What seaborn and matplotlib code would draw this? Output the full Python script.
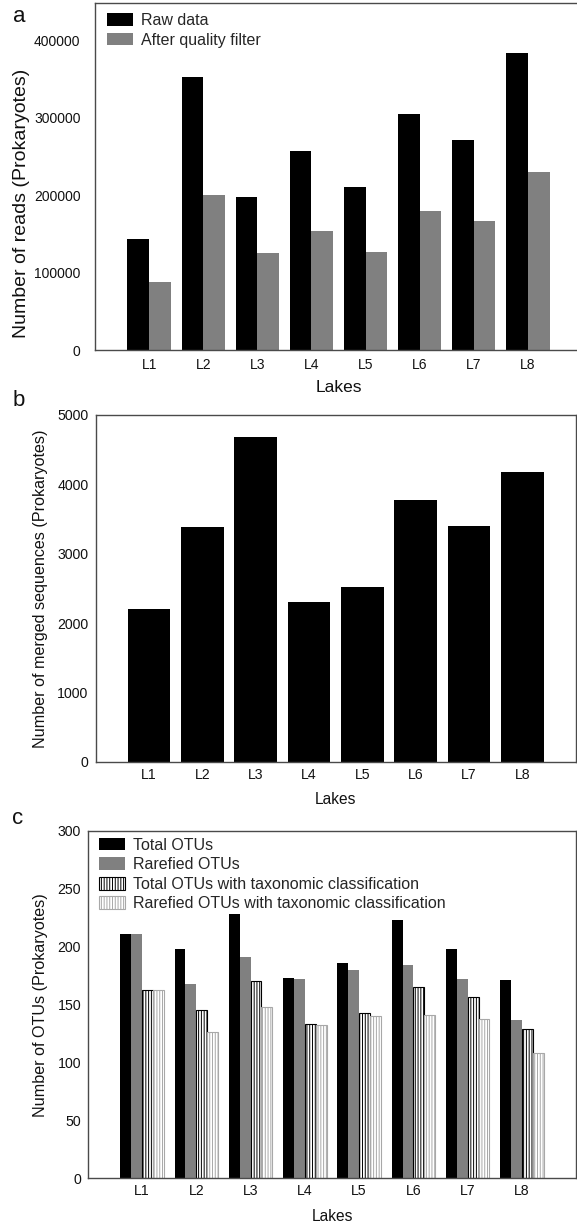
import numpy as np
import pandas as pd
import matplotlib
matplotlib.use("Agg")
import matplotlib.pyplot as plt
from matplotlib.patches import Patch
import seaborn as sns

# ---------------- data ----------------
lakes = ["L1", "L2", "L3", "L4", "L5", "L6", "L7", "L8"]

raw_reads = [143600, 352700, 197800, 256800, 209900, 304500, 271000, 382800]
filtered_reads = [87300, 200000, 124700, 153500, 126500, 179400, 166000, 229300]

merged_seqs = [2206, 3385, 4678, 2303, 2515, 3774, 3395, 4178]

total_otus = [211, 198, 228, 173, 186, 223, 198, 171]
rarefied_otus = [211, 168, 191, 172, 180, 184, 172, 137]
total_otus_tax = [163, 145, 170, 133, 143, 165, 157, 129]
rarefied_otus_tax = [163, 126, 148, 132, 140, 141, 138, 108]

reads_series = ["Raw data", "After quality filter"]
otu_series = ["Total OTUs", "Rarefied OTUs",
              "Total OTUs with taxonomic classification",
              "Rarefied OTUs with taxonomic classification"]

ticks_a = [0, 100000, 200000, 300000, 400000]
ticks_b = [0, 1000, 2000, 3000, 4000, 5000]
ticks_c = [0, 50, 100, 150, 200, 250, 300]

# ---------------- style ----------------
sns.set_theme(style="white")
FAM = ["Liberation Sans", "DejaVu Sans"]
plt.rcParams["font.family"] = FAM
plt.rcParams["hatch.linewidth"] = 0.7

W, H = 577, 1226
fig = plt.figure(figsize=(W / 100, H / 100), dpi=100)


def add_axes(l, t, r, b):
    return fig.add_axes([l / W, 1 - b / H, (r - l) / W, (b - t) / H])


SPINE = "#4a4a4a"
TXT = "#111111"


def style_axes(ax, ylim, yticks, tick_fs, xpad, ypad):
    ax.set_ylim(*ylim)
    ax.set_xlim(-1, 8)
    ax.set_yticks(yticks)
    ax.set_yticklabels([str(t) for t in yticks], fontsize=tick_fs)
    ax.set_xticks(range(len(lakes)))
    ax.set_xticklabels(lakes, fontsize=tick_fs)
    ax.tick_params(axis="x", length=0, pad=xpad, colors=TXT)
    ax.tick_params(axis="y", length=0, pad=ypad, colors=TXT)
    for s in ax.spines.values():
        s.set_visible(True)
        s.set_color(SPINE)
        s.set_linewidth(1.0)


def place_labels(ax, xlab, ylab, ax_h_px, ax_w_px, x_off_px, ylab_xpx,
                 ylab_ycenter_frac, fs_x, fs_y, ax_left_px):
    ax.set_xlabel(xlab, fontsize=fs_x, color=TXT)
    ax.set_ylabel(ylab, fontsize=fs_y, color=TXT)
    ax.xaxis.set_label_coords(0.5, -x_off_px / ax_h_px)
    ax.xaxis.label.set_verticalalignment("center")
    ax.yaxis.set_label_coords((ylab_xpx - ax_left_px) / ax_w_px, ylab_ycenter_frac)
    ax.yaxis.label.set_verticalalignment("center")


# ---------------- panel a ----------------
axA = add_axes(95, 3.3, 582, 350)
dfa = pd.DataFrame({
    "Lake": lakes * 2,
    "Reads": raw_reads + filtered_reads,
    "Series": [reads_series[0]] * 8 + [reads_series[1]] * 8,
})
sns.barplot(data=dfa, x="Lake", y="Reads", hue="Series", order=lakes,
            hue_order=reads_series, palette=["#000000", "#808080"],
            saturation=1, width=0.8, errorbar=None, legend=False,
            edgecolor="none", linewidth=0, ax=axA)
style_axes(axA, (0, 447400), ticks_a, 10, 6.0, 10.5)
place_labels(axA, "Lakes", "Number of reads (Prokaryotes)", 346.7, 487, 38,
             22, (350 - 203) / 346.7, 12.5, 14, 95)
hA = [Patch(facecolor="#000000", edgecolor="none"),
      Patch(facecolor="#808080", edgecolor="none")]
axA.legend(hA, reads_series, loc="upper left",
           bbox_to_anchor=(12 / 487, 1 - 9.5 / 346.7),
           frameon=False, borderpad=0, borderaxespad=0, handlelength=1.65,
           handleheight=0.85, handletextpad=0.45, labelspacing=0.3,
           prop={"size": 11.5})

# ---------------- panel b ----------------
axB = add_axes(95.7, 415, 575.7, 761.7)
dfb = pd.DataFrame({"Lake": lakes, "Merged": merged_seqs})
sns.barplot(data=dfb, x="Lake", y="Merged", order=lakes, color="#000000",
            saturation=1, width=0.8, errorbar=None, edgecolor="none",
            linewidth=0, ax=axB)
style_axes(axB, (0, 5000), ticks_b, 10.2, 4.5, 5.3)
place_labels(axB, "Lakes", "Number of merged sequences (Prokaryotes)", 346.7, 480,
             38.3, 41, 0.5, 11.2, 11.6, 95.7)

# ---------------- panel c ----------------
axC = add_axes(87.7, 831, 576.3, 1178.3)
dfc = pd.DataFrame({
    "Lake": lakes * 4,
    "OTUs": total_otus + rarefied_otus + total_otus_tax + rarefied_otus_tax,
    "Series": sum([[s] * 8 for s in otu_series], []),
})
sns.barplot(data=dfc, x="Lake", y="OTUs", hue="Series", order=lakes,
            hue_order=otu_series,
            palette=["#000000", "#808080", "#ffffff", "#ffffff"],
            saturation=1, width=0.8, errorbar=None, legend=False,
            edgecolor="none", linewidth=0, ax=axC)
HATCH = "||||||"
LIGHT = "#a8a8a8"
for i, p in enumerate(list(axC.patches)):
    level = i // len(lakes)
    if level == 2:
        p.set_facecolor("white")
        p.set_edgecolor("#000000")
        p.set_linewidth(0.8)
        p.set_hatch(HATCH)
    elif level == 3:
        p.set_facecolor("white")
        p.set_edgecolor(LIGHT)
        p.set_linewidth(0.8)
        p.set_hatch(HATCH)
style_axes(axC, (0, 300), ticks_c, 10.2, 4.0, 4.8)
place_labels(axC, "Lakes", "Number of OTUs (Prokaryotes)", 347.3, 488.6, 38.4,
             41, 0.5, 11.2, 11.6, 87.7)
hC = [Patch(facecolor="#000000", edgecolor="none"),
      Patch(facecolor="#808080", edgecolor="none"),
      Patch(facecolor="white", edgecolor="#000000", hatch=HATCH, linewidth=0.8),
      Patch(facecolor="white", edgecolor=LIGHT, hatch=HATCH, linewidth=0.8)]
axC.legend(hC, otu_series, loc="upper left",
           bbox_to_anchor=(11.3 / 488.6, 1 - 6.5 / 347.3),
           frameon=False, borderpad=0, borderaxespad=0, handlelength=1.65,
           handleheight=0.85, handletextpad=0.45, labelspacing=0.29,
           prop={"size": 11.5})

# ---------------- panel letters ----------------
fig.text(19.7 / W, 1 - 16.7 / H, "a", fontsize=16, ha="center", va="center", color=TXT)
fig.text(19 / W, 1 - 400 / H, "b", fontsize=16, ha="center", va="center", color=TXT)
fig.text(17.5 / W, 1 - 818 / H, "c", fontsize=16, ha="center", va="center", color=TXT)

fig.savefig("out.png", dpi=100, facecolor="white")
